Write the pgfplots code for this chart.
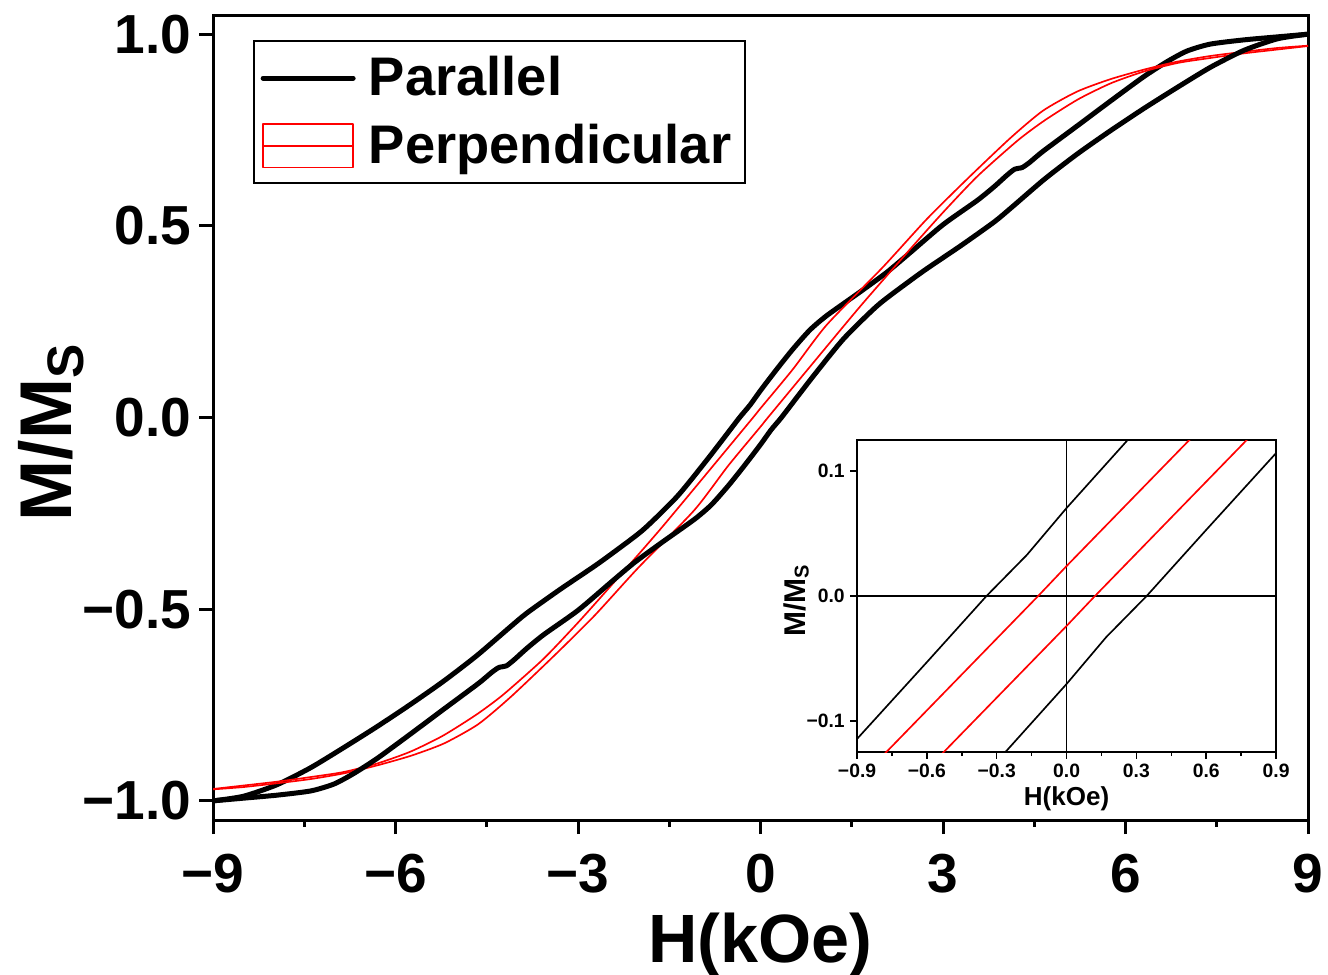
\documentclass[border=0pt]{standalone}
\usepackage{fontspec}
\setmainfont{Liberation Sans}
\usepackage{pgfplots}
\pgfplotsset{compat=1.18}
\usepackage{pgfplotstable}
\usetikzlibrary{calc}

% parallel, descending branch (+9 -> -9)
\pgfplotstableread{
H M
9.00 1.000
8.50 0.993
7.94 0.985
7.39 0.974
7.01 0.956
6.68 0.928
6.29 0.888
5.74 0.824
5.20 0.760
4.64 0.694
4.42 0.665
4.30 0.652
4.18 0.648
4.05 0.632
3.84 0.602
3.56 0.566
3.00 0.503
2.46 0.430
2.07 0.378
1.64 0.328
1.09 0.266
0.81 0.228
0.53 0.178
0.265 0.1255
0.00 0.0705
-0.17 0.033
-0.344 0.000
-0.60 -0.053
-0.90 -0.1145
-1.37 -0.206
-1.93 -0.293
-2.46 -0.357
-2.75 -0.390
-3.30 -0.449
-3.84 -0.510
-4.12 -0.547
-4.67 -0.622
-5.22 -0.689
-5.76 -0.749
-6.31 -0.807
-6.86 -0.862
-7.40 -0.914
-7.95 -0.958
-8.50 -0.988
-9.00 -1.000
}\parup

% parallel, ascending branch (-9 -> +9)
\pgfplotstableread{
H M
-9.00 -1.000
-8.50 -0.993
-7.94 -0.985
-7.39 -0.974
-7.01 -0.956
-6.68 -0.928
-6.29 -0.888
-5.74 -0.824
-5.20 -0.760
-4.64 -0.694
-4.42 -0.665
-4.30 -0.652
-4.18 -0.648
-4.05 -0.632
-3.84 -0.602
-3.56 -0.566
-3.00 -0.503
-2.46 -0.430
-2.07 -0.378
-1.64 -0.328
-1.09 -0.266
-0.81 -0.228
-0.53 -0.178
-0.265 -0.1255
0.00 -0.0705
0.17 -0.033
0.344 0.000
0.60 0.053
0.90 0.1145
1.37 0.206
1.93 0.293
2.46 0.357
2.75 0.390
3.30 0.449
3.84 0.510
4.12 0.547
4.67 0.622
5.22 0.689
5.76 0.749
6.31 0.807
6.86 0.862
7.40 0.914
7.95 0.958
8.50 0.988
9.00 1.000
}\pardown

% perpendicular, descending branch
\pgfplotstableread{
H M
9.00 0.970
8.50 0.964
7.94 0.954
7.39 0.943
6.84 0.928
6.29 0.907
5.74 0.882
5.20 0.850
4.64 0.800
4.10 0.728
3.39 0.621
2.73 0.517
2.01 0.392
1.09 0.242
0.53 0.1255
0.00 0.024
-0.122 0.000
-0.774 -0.125
-1.65 -0.292
-2.47 -0.441
-3.00 -0.535
-3.57 -0.630
-4.23 -0.723
-4.67 -0.775
-5.22 -0.830
-5.76 -0.872
-6.31 -0.903
-6.86 -0.925
-7.40 -0.938
-7.95 -0.950
-8.50 -0.960
-9.00 -0.969
}\perpup

% perpendicular, ascending branch
\pgfplotstableread{
H M
-9.00 -0.970
-8.50 -0.964
-7.94 -0.954
-7.39 -0.943
-6.84 -0.928
-6.29 -0.907
-5.74 -0.882
-5.20 -0.850
-4.64 -0.800
-4.10 -0.728
-3.39 -0.621
-2.73 -0.517
-2.01 -0.392
-1.09 -0.242
-0.53 -0.1255
0.00 -0.024
0.122 0.000
0.774 0.125
1.65 0.292
2.47 0.441
3.00 0.535
3.57 0.630
4.23 0.723
4.67 0.775
5.22 0.830
5.76 0.872
6.31 0.903
6.86 0.925
7.40 0.938
7.95 0.950
8.50 0.960
9.00 0.969
}\perpdown

\begin{document}
\begin{tikzpicture}
\begin{axis}[
    name=main,
    scale only axis,
    width=328.5pt, height=241.5pt,
    xmin=-9, xmax=9, ymin=-1.05, ymax=1.05,
    xtick={-9,-6,-3,0,3,6,9},
    xticklabels={−9,−6,−3,0,3,6,9},
    minor xtick={-7.5,-4.5,-1.5,1.5,4.5,7.5},
    ytick={-1,-0.5,0,0.5,1},
    yticklabels={−1.0,−0.5,0.0,0.5,1.0},
    tick align=outside, tick pos=left,
    major tick length=4.2pt, minor tick length=2pt,
    axis line style={line width=0.9pt},
    every tick/.style={black, line width=0.9pt},
    tick label style={font=\fontsize{16.5}{18}\selectfont\bfseries},
    yticklabel style={xshift=1.2pt},
    xticklabel style={yshift=-2.5pt},
    xlabel={H(kOe)},
    ylabel={M/M\textsubscript{S}},
    xlabel style={at={(axis description cs:0.5,-0.177)}, anchor=base,
        font=\fontsize{20.5}{24}\selectfont\bfseries},
    ylabel style={at={(axis description cs:-0.129,0.482)}, anchor=base,
        font=\fontsize{22}{26}\selectfont\bfseries},
    legend style={at={(0.0365,0.969)}, anchor=north west, draw=black,
        line width=0.6pt, font=\fontsize{16.3}{18}\selectfont\bfseries,
        inner xsep=2pt, inner ysep=2.5pt, row sep=3pt,
        /tikz/every odd column/.append style={column sep=2pt}},
    legend cell align=left,
]
\addplot[black, line width=1.5pt, line join=round, smooth, tension=0.4,
    legend image code/.code={\draw[black, line width=1.5pt, line cap=round] (0pt,0pt) -- (27pt,0pt);}]
    table[x=H, y=M] {\parup};
\addlegendentry{Parallel}
\addplot[red, line width=0.5pt, line join=round, smooth, tension=0.4,
    legend image code/.code={%
        \draw[red, line width=0.5pt] (0pt,-6.5pt) rectangle (27pt,0pt);
        \draw[red, line width=0.5pt] (0pt,0pt) rectangle (27pt,6.5pt);}]
    table[x=H, y=M] {\perpup};
\addlegendentry{Perpendicular}
\addplot[red, line width=0.5pt, line join=round, smooth, tension=0.4, forget plot]
    table[x=H, y=M] {\perpdown};
\addplot[black, line width=1.5pt, line join=round, smooth, tension=0.4, forget plot]
    table[x=H, y=M] {\pardown};
\end{axis}

% inset: low-field region
\begin{axis}[
    name=inset,
    at={($(main.south west)+(193.2pt,20.4pt)$)}, anchor=south west,
    scale only axis,
    width=125.7pt, height=93.6pt,
    xmin=-0.9, xmax=0.9, ymin=-0.125, ymax=0.125,
    xtick={-0.9,-0.6,-0.3,0,0.3,0.6,0.9},
    xticklabels={−0.9,−0.6,−0.3,0.0,0.3,0.6,0.9},
    minor xtick={-0.75,-0.45,-0.15,0.15,0.45,0.75},
    ytick={-0.1,0,0.1},
    yticklabels={−0.1,0.0,0.1},
    tick align=outside, tick pos=left,
    major tick length=2pt, minor tick length=1.2pt,
    axis line style={line width=0.45pt},
    every tick/.style={black, line width=0.45pt},
    tick label style={font=\fontsize{5.8}{7}\selectfont\bfseries, inner sep=1.5pt},
    extra x ticks={0}, extra y ticks={0},
    extra x tick labels={}, extra y tick labels={},
    extra tick style={grid=major, major grid style={black, line width=0.45pt}},
    xlabel={H(kOe)},
    ylabel={M/M\textsubscript{S}},
    xlabel style={at={(axis description cs:0.5,-0.17)}, anchor=base,
        font=\fontsize{7.8}{9}\selectfont\bfseries},
    ylabel style={at={(axis description cs:-0.124,0.487)}, anchor=base,
        font=\fontsize{9}{11}\selectfont\bfseries},
    clip=true,
]
\addplot[black, line width=0.5pt] table[x=H, y=M] {\parup};
\addplot[red, line width=0.5pt] table[x=H, y=M] {\perpup};
\addplot[red, line width=0.5pt] table[x=H, y=M] {\perpdown};
\addplot[black, line width=0.5pt] table[x=H, y=M] {\pardown};
\end{axis}

\pgfresetboundingbox
\path[use as bounding box] ($(main.south west)+(-63.9pt,-46.2pt)$) rectangle ($(main.north east)+(6pt,4.5pt)$);
\end{tikzpicture}
\end{document}
